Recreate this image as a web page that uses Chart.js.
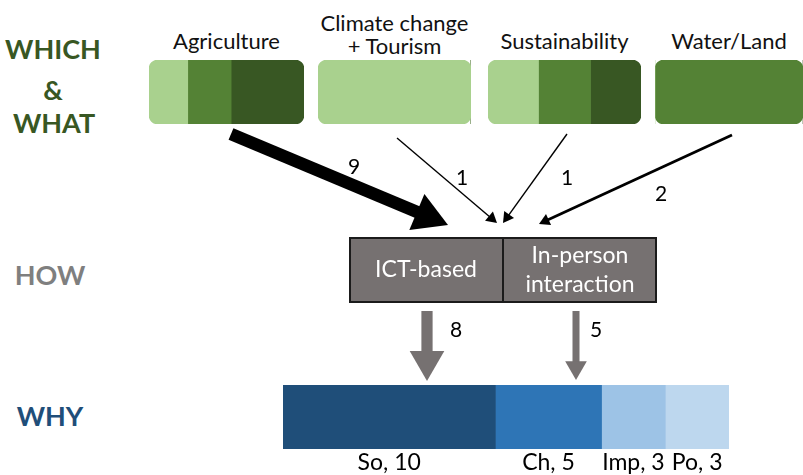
<!DOCTYPE html>
<html lang="en">
<head>
<meta charset="utf-8">
<title>Which, how and why</title>
<script src="https://cdn.jsdelivr.net/npm/chart.js@4.4.1/dist/chart.umd.min.js"></script>
<style>
  html, body { margin: 0; padding: 0; background: #fff; }
  body { position: relative; width: 803px; height: 475px; overflow: hidden; font-family: Lato, 'Open Sans', sans-serif; }
  canvas { position: absolute; display: block; }
  .row-title { position: absolute; width: 100px; text-align: center; font-size: 27px; font-weight: 700; line-height: 1; }
  .topic { position: absolute; text-align: center; font-size: 22px; line-height: 23px; color: #111; white-space: pre; }
</style>
</head>
<body>
<div class="row-title" style="left:3px;top:35px;color:#385723">WHICH</div>
<div class="row-title" style="left:3px;top:76px;color:#385723">&amp;</div>
<div class="row-title" style="left:4px;top:109px;color:#385723">WHAT</div>
<div class="row-title" style="left:0;top:261px;color:#7f7f7f">HOW</div>
<div class="row-title" style="left:0;top:402px;color:#1f4e79">WHY</div>
<script>
// which & what: topics and the share of each green shade in their box
const whatTopics = ['Agriculture', 'Climate change\n+ Tourism', 'Sustainability', 'Water/Land'];
const shadeColors = ['#a9d18e', '#548235', '#385723'];
const agricultureShades = [25, 28, 47];
const climateShades = [100, 0, 0];
const sustainabilityShades = [33, 34, 33];
const waterLandShades = [0, 100, 0];
const flowCounts = [9, 1, 1, 2];

// how
const howModes = ['ICT-based', 'In-person\ninteraction'];
const howCounts = [8, 5];

// why
const whyCodes = ['So', 'Ch', 'Imp', 'Po'];
const whyCounts = [10, 5, 3, 3];
const whyColors = ['#1f4e79', '#2e75b6', '#9dc3e6', '#bdd7ee'];

// layout (pixels)
const W = 803, H = 475;
const boxes = [{ left: 149, width: 155 }, { left: 318, width: 153 }, { left: 488, width: 153 }, { left: 655, width: 148 }];
const boxTop = 60, boxHeight = 64, boxRadius = 9;
const howBox = { left: 349, top: 237, width: 308, height: 66 };
const whyBox = { left: 283, top: 385, width: 446, height: 90, labelSpace: 26 };
const flowStarts = [[231, 134], [397, 138], [567, 134], [732, 135]];
const flowTips = [[448, 225], [497, 223], [503, 223], [539, 224]];
const flowLabelAt = [[354, 167], [462, 178], [567, 178], [661, 194]];
const downStarts = [[427, 311], [576, 311]];
const downTips = [[427, 381], [576, 380]];
const downLabelAt = [[456, 330], [596, 330]];
const shaftPerUnit = 1.4, headPerUnit = 2.5, minHead = 7;
const grey = '#767171';

function makeCanvas(left, top, width, height) {
  const canvas = document.createElement('canvas');
  canvas.width = width;
  canvas.height = height;
  canvas.style.left = `${left}px`;
  canvas.style.top = `${top}px`;
  canvas.style.width = `${width}px`;
  canvas.style.height = `${height}px`;
  document.body.appendChild(canvas);
  return canvas;
}

function baseOptions(extra = {}) {
  return {
    responsive: false,
    animation: false,
    devicePixelRatio: 1,
    events: [],
    layout: { padding: 0, autoPadding: false },
    plugins: { legend: { display: false }, tooltip: { enabled: false } },
    ...extra
  };
}

const sum = values => values.reduce((a, b) => a + b, 0);

// topic captions
whatTopics.forEach((topic, i) => {
  const div = document.createElement('div');
  div.className = 'topic';
  div.textContent = topic;
  div.style.left = `${boxes[i].left}px`;
  div.style.width = `${boxes[i].width}px`;
  div.style.top = topic.includes('\n') ? '11px' : '29px';
  document.body.appendChild(div);
});

// green topic boxes
[agricultureShades, climateShades, sustainabilityShades, waterLandShades].forEach((shares, b) => {
  const used = shares.map((v, i) => (v > 0 ? i : -1)).filter(i => i >= 0);
  const first = used[0], last = used[used.length - 1];
  new Chart(makeCanvas(boxes[b].left, boxTop, boxes[b].width, boxHeight), {
    type: 'bar',
    data: {
      labels: [whatTopics[b]],
      datasets: shares.map((v, i) => ({
        data: [v],
        backgroundColor: shadeColors[i],
        borderWidth: 0,
        borderSkipped: false,
        borderRadius: {
          topLeft: i === first ? boxRadius : 0,
          bottomLeft: i === first ? boxRadius : 0,
          topRight: i === last ? boxRadius : 0,
          bottomRight: i === last ? boxRadius : 0
        },
        barPercentage: 1,
        categoryPercentage: 1
      }))
    },
    options: baseOptions({
      indexAxis: 'y',
      scales: {
        x: { stacked: true, display: false, min: 0, max: sum(shares) },
        y: { stacked: true, display: false }
      }
    })
  });
});

// HOW box
const segmentText = (color, font, lineGap) => ({
  id: 'segmentText',
  afterDatasetsDraw(chart) {
    const { ctx } = chart;
    ctx.save();
    ctx.font = font;
    ctx.fillStyle = color;
    ctx.textAlign = 'center';
    ctx.textBaseline = 'middle';
    chart.data.datasets.forEach((ds, i) => {
      const bar = chart.getDatasetMeta(i).data[0];
      const lines = ds.label.split('\n');
      const cx = (bar.x + bar.base) / 2;
      lines.forEach((line, k) => ctx.fillText(line, cx, bar.y + (k - (lines.length - 1) / 2) * lineGap));
    });
    ctx.restore();
  }
});

new Chart(makeCanvas(howBox.left, howBox.top, howBox.width, howBox.height), {
  type: 'bar',
  data: {
    labels: ['HOW'],
    datasets: howModes.map((mode, i) => ({
      label: mode,
      data: [1],
      backgroundColor: grey,
      borderColor: '#1b1b1b',
      borderWidth: { top: 2, bottom: 2, left: i === 0 ? 2 : 1, right: i === howModes.length - 1 ? 2 : 1 },
      borderSkipped: false,
      inflateAmount: 0,
      barPercentage: 1,
      categoryPercentage: 1
    }))
  },
  options: baseOptions({
    indexAxis: 'y',
    scales: {
      x: { stacked: true, display: false, min: 0, max: howModes.length },
      y: { stacked: true, display: false }
    }
  }),
  plugins: [segmentText('#ffffff', '23px Lato, sans-serif', 29)]
});

// WHY bar
const whyLabels = {
  id: 'whyLabels',
  afterDatasetsDraw(chart) {
    const { ctx, chartArea } = chart;
    ctx.save();
    ctx.font = '23px Lato, sans-serif';
    ctx.fillStyle = '#000';
    ctx.textAlign = 'center';
    ctx.textBaseline = 'alphabetic';
    whyCodes.forEach((code, i) => {
      const bar = chart.getDatasetMeta(i).data[0];
      ctx.fillText(`${code}, ${whyCounts[i]}`, (bar.x + bar.base) / 2, chartArea.bottom + 21);
    });
    ctx.restore();
  }
};

new Chart(makeCanvas(whyBox.left, whyBox.top, whyBox.width, whyBox.height), {
  type: 'bar',
  data: {
    labels: ['WHY'],
    datasets: whyCodes.map((code, i) => ({
      label: code,
      data: [whyCounts[i]],
      backgroundColor: whyColors[i],
      borderWidth: 0,
      barPercentage: 1,
      categoryPercentage: 1
    }))
  },
  options: baseOptions({
    indexAxis: 'y',
    layout: { padding: { bottom: whyBox.labelSpace }, autoPadding: false },
    scales: {
      x: { stacked: true, display: false, min: 0, max: sum(whyCounts) },
      y: { stacked: true, display: false }
    }
  }),
  plugins: [whyLabels]
});

// arrows: shaft = line, head = rotated triangle point
function arrow(start, tip, count, color) {
  const dx = tip[0] - start[0], dy = tip[1] - start[1];
  const len = Math.hypot(dx, dy);
  const r = Math.max(minHead, headPerUnit * count);
  const cx = tip[0] - (dx / len) * r, cy = tip[1] - (dy / len) * r;
  return {
    data: [{ x: start[0], y: start[1] }, { x: cx, y: cy }],
    borderColor: color,
    borderWidth: shaftPerUnit * count,
    borderCapStyle: 'butt',
    pointRadius: [0, r],
    pointStyle: 'triangle',
    pointRotation: [0, Math.atan2(dx, -dy) * 180 / Math.PI],
    pointBackgroundColor: color,
    pointBorderWidth: 0,
    tension: 0
  };
}

const arrowLabels = {
  id: 'arrowLabels',
  afterDatasetsDraw(chart) {
    const { ctx, scales: { x, y } } = chart;
    ctx.save();
    ctx.font = '21px Lato, sans-serif';
    ctx.fillStyle = '#000';
    ctx.textAlign = 'center';
    ctx.textBaseline = 'middle';
    flowCounts.forEach((n, i) => ctx.fillText(String(n), x.getPixelForValue(flowLabelAt[i][0]), y.getPixelForValue(flowLabelAt[i][1])));
    howCounts.forEach((n, i) => ctx.fillText(String(n), x.getPixelForValue(downLabelAt[i][0]), y.getPixelForValue(downLabelAt[i][1])));
    ctx.restore();
  }
};

new Chart(makeCanvas(0, 0, W, H), {
  type: 'line',
  data: {
    datasets: [
      ...flowCounts.map((n, i) => arrow(flowStarts[i], flowTips[i], n, '#000')),
      ...howCounts.map((n, i) => arrow(downStarts[i], downTips[i], n, grey))
    ]
  },
  options: baseOptions({
    scales: {
      x: { type: 'linear', display: false, min: 0, max: W },
      y: { type: 'linear', display: false, min: 0, max: H, reverse: true }
    }
  }),
  plugins: [arrowLabels]
});
</script>
</body>
</html>
